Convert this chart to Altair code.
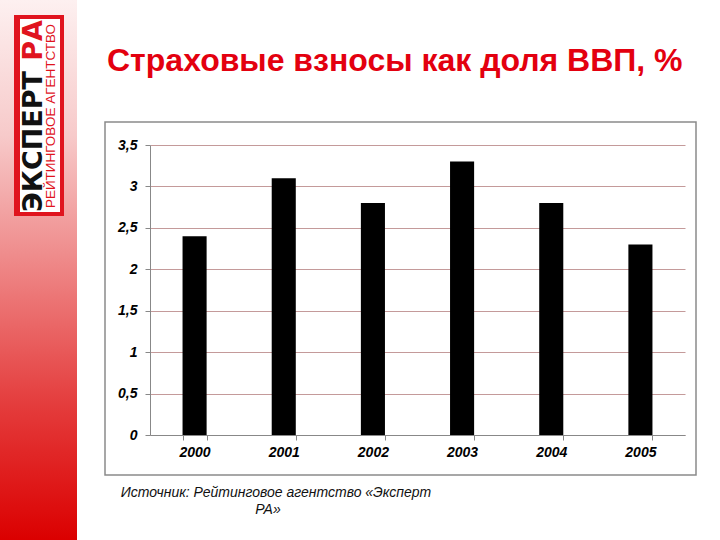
import altair as alt
import pandas as pd

years = ["2000", "2001", "2002", "2003", "2004", "2005"]
values = [2.4, 3.1, 2.8, 3.3, 2.8, 2.3]
y_ticks = [0, 0.5, 1, 1.5, 2, 2.5, 3, 3.5]

title_text = "Страховые взносы как доля ВВП, %"
source_line1 = "Источник: Рейтинговое агентство «Эксперт"
source_line2 = "РА»"
logo_main = "ЭКСПЕРТ"
logo_ra = "РА"
logo_sub = "РЕЙТИНГОВОЕ АГЕНТСТВО"

df = pd.DataFrame({"year": years, "value": values})
one = pd.DataFrame({"k": [0]})

OX, OY = 150, 145  # plot origin in page pixels


def px(v):
    return alt.value(v - OX)


def py(v):
    return alt.value(v - OY)


strip = alt.Chart(one).mark_rect(
    fill=alt.LinearGradient(
        gradient="linear", x1=0, y1=0, x2=0, y2=1,
        stops=[
            alt.GradientStop(color="#fdf0f0", offset=0),
            alt.GradientStop(color="#f7caca", offset=0.25),
            alt.GradientStop(color="#ee8484", offset=0.5),
            alt.GradientStop(color="#e43c3c", offset=0.75),
            alt.GradientStop(color="#db0000", offset=1),
        ],
    )
).encode(x=px(0), x2=px(77), y=py(0), y2=py(540))

logo_outer = alt.Chart(one).mark_rect(fill="#e0141e").encode(
    x=px(14), x2=px(64), y=py(15), y2=py(216))
logo_inner = alt.Chart(one).mark_rect(fill="white").encode(
    x=px(20), x2=px(60), y=py(19), y2=py(212))

logo_t1 = alt.Chart(one).mark_text(
    text=logo_main, angle=270, align="left", baseline="alphabetic",
    font="DejaVu Sans", fontWeight="bold", fontSize=27, color="#111111"
).encode(x=px(42), y=py(212))
logo_t2 = alt.Chart(one).mark_text(
    text=logo_ra, angle=270, align="right", baseline="alphabetic",
    font="DejaVu Sans", fontWeight="bold", fontSize=27, color="#e0141e"
).encode(x=px(42), y=py(20))
logo_t3 = alt.Chart(one).mark_text(
    text=logo_sub, angle=270, align="center", baseline="alphabetic",
    font="Liberation Sans", fontSize=13.5, color="#e0141e"
).encode(x=px(55), y=py(116))

title = alt.Chart(one).mark_text(
    text=title_text, align="left", baseline="middle",
    font="Liberation Sans", fontWeight="bold", fontSize=32, color="#e3000f"
).encode(x=px(107), y=py(61))

frame = alt.Chart(one).mark_rect(
    filled=False, stroke="#8a8a8a", strokeWidth=1.5
).encode(x=px(105), x2=px(696), y=py(122), y2=py(475))

src1 = alt.Chart(one).mark_text(
    text=source_line1, align="center", baseline="middle",
    font="Liberation Sans", fontStyle="italic", fontSize=14, color="#111111"
).encode(x=px(276), y=py(493))
src2 = alt.Chart(one).mark_text(
    text=source_line2, align="center", baseline="middle",
    font="Liberation Sans", fontStyle="italic", fontSize=14, color="#111111"
).encode(x=px(268), y=py(510))

bars = alt.Chart(df).mark_bar(color="black").encode(
    x=alt.X("year:N", sort=years, title=None,
            scale=alt.Scale(paddingInner=0.73, paddingOuter=0.365),
            axis=alt.Axis(labelAngle=0, tickBand="extent", tickSize=5,
                          labelPadding=5, domainColor="#888888",
                          tickColor="#888888", grid=False,
                          labelFont="Liberation Sans", labelFontWeight="bold",
                          labelFontStyle="italic", labelFontSize=14,
                          labelColor="black")),
    y=alt.Y("value:Q", title=None,
            scale=alt.Scale(domain=[0, 3.5], nice=False),
            axis=alt.Axis(values=y_ticks, format="~g",
                          labelExpr="replace(datum.label, '.', ',')",
                          tickSize=5, labelPadding=8,
                          domainColor="#888888", tickColor="#888888",
                          gridColor="#c49a9a", gridWidth=1,
                          labelFont="Liberation Sans", labelFontWeight="bold",
                          labelFontStyle="italic", labelFontSize=14,
                          labelColor="black")),
)

chart = alt.layer(
    strip, logo_outer, logo_inner, logo_t1, logo_t2, logo_t3,
    title, frame, bars, src1, src2
).properties(
    width=535, height=290,
    autosize=alt.AutoSizeParams(type="none"),
    padding={"left": OX, "top": OY, "right": 35, "bottom": 105},
    background="white",
).configure_view(strokeWidth=0)

chart.save("out.html", embed_options={"renderer": "svg", "actions": False})
